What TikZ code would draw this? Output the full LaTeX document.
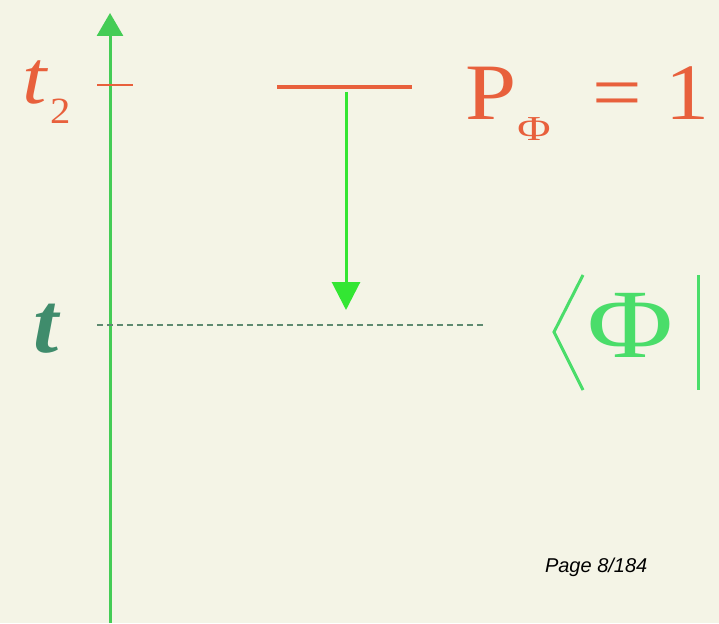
\documentclass[tikz,border=0pt]{standalone}
\usepackage{fontspec}
\setmainfont{Liberation Serif}
\newfontfamily\pagesans{Liberation Sans}
\usetikzlibrary{arrows.meta}
\definecolor{bgc}{HTML}{F4F4E6}
\definecolor{redc}{HTML}{E8603C}
\definecolor{axisg}{HTML}{44CC55}
\definecolor{arrg}{HTML}{33E633}
\definecolor{brag}{HTML}{4ADD6A}
\definecolor{tg}{HTML}{3F8C6C}
\definecolor{dashg}{HTML}{5E8A70}
\tikzset{
  axisline/.style={draw=axisg, line width=3pt, -{Triangle[width=26pt,length=23pt]}},
  redbar/.style={draw=redc, line width=4.5pt},
  downarrow/.style={draw=arrg, line width=3pt, -{Triangle[width=28pt,length=28pt]}},
  dashline/.style={draw=dashg, line width=1.1pt, dash pattern=on 6pt off 4pt},
  bracket/.style={draw=brag, line width=3pt},
  lbl/.style={inner sep=0pt, outer sep=0pt}
}
\begin{document}
\begin{tikzpicture}[x=1pt,y=-1pt]
\fill[bgc] (0,0) rectangle (719,623);
\useasboundingbox (0,0) rectangle (719,623);
% axis
\coordinate (axbot) at (110,623);
\coordinate (axtop) at (110,13);
\draw[axisline] (axbot) -- (axtop);
% t2 tick and label
\coordinate (tk1) at (97,85);
\coordinate (tk2) at (133,85);
\draw[draw=redc, line width=2.5pt] (tk1) -- (tk2);
\node[lbl, anchor=base west, text=redc, font=\fontsize{76}{76}\selectfont] (t2t) at (22,103) {\scalebox{1.15}[1]{\textit{t}}};
\node[lbl, anchor=base west, text=redc, font=\fontsize{37}{37}\selectfont] (t2s) at (50,123) {\scalebox{1.1}[1]{2}};
% red level line
\coordinate (l1) at (277,87);
\coordinate (l2) at (412,87);
\draw[redbar] (l1) -- (l2);
% P_Phi = 1
\node[lbl, anchor=base west, text=redc, font=\fontsize{80}{80}\selectfont] (pP) at (465,120) {\scalebox{1.15}[1]{P}};
\node[lbl, anchor=base, text=redc, font=\fontsize{35}{35}\selectfont] (pPhi) at (534,140) {\scalebox{1.3}[1]{Φ}};
\node[lbl, anchor=base, text=redc, font=\fontsize{80}{80}\selectfont] (peq) at (617,120) {\scalebox{1.1}[1]{=}};
\node[lbl, anchor=base, text=redc, font=\fontsize{80}{80}\selectfont] (pone) at (687,120) {\scalebox{1.1}[1]{1}};
% down arrow
\coordinate (a1) at (346,92);
\coordinate (a2) at (346,310);
\draw[downarrow] (a1) -- (a2);
% dashed line at t
\coordinate (d1) at (97,325);
\coordinate (d2) at (486,325);
\draw[dashline] (d1) -- (d2);
\node[lbl, anchor=base, text=tg, font=\bfseries\itshape\fontsize{86}{86}\selectfont] (t) at (46,352) {\scalebox{1.05}[1]{t}};
% bra <Phi|
\coordinate (b1) at (583,275);
\coordinate (b2) at (554,332);
\coordinate (b3) at (583,390);
\draw[bracket] (b1) -- (b2) -- (b3);
\coordinate (v1) at (698,275);
\coordinate (v2) at (698,390);
\draw[bracket] (v1) -- (v2);
\node[lbl, anchor=base, text=brag, font=\fontsize{98}{98}\selectfont] (phi) at (630,357) {\scalebox{1.2}[1]{Φ}};
% page label
\node[lbl, anchor=base west, text=black, font=\pagesans\itshape\fontsize{20}{20}\selectfont] (page) at (545,572) {Page 8/184};
\end{tikzpicture}
\end{document}
